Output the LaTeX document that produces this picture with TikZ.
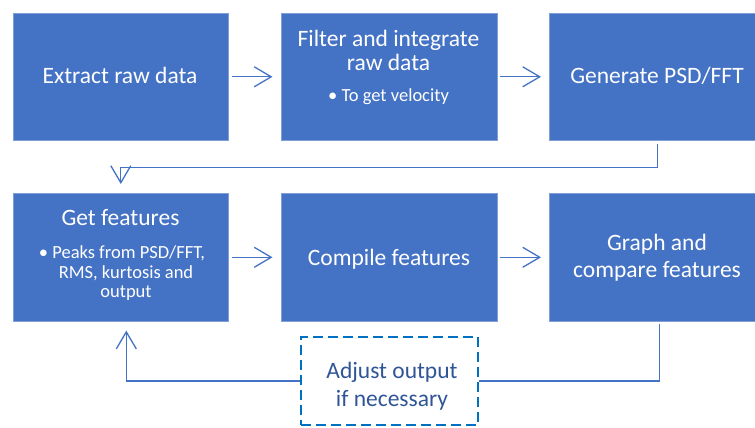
\documentclass[tikz,border=0pt]{standalone}
\usepackage{fontspec}
\setmainfont{Carlito}
\usetikzlibrary{arrows.meta}
\definecolor{boxblue}{HTML}{4472C4}
\definecolor{boxedge}{HTML}{7F9FD6}
\definecolor{dashblue}{HTML}{0070C0}
\definecolor{adjtext}{HTML}{2F5597}
\tikzset{
 stepbox/.style={rectangle, fill=boxblue, draw=boxedge, line width=0.6pt, inner sep=0pt, anchor=north west},
 bigtxt/.style={text=white, font=\fontsize{23.5}{28}\selectfont, anchor=base, inner sep=0pt},
 smalltxt/.style={text=white, font=\fontsize{18.5}{22}\selectfont, anchor=base, inner sep=0pt},
 conn/.style={draw=boxblue, line width=1.3pt, -{Straight Barb[length=17pt,width=20pt]}},
 plainconn/.style={draw=boxblue, line width=1.3pt},
 adjbox/.style={draw=dashblue, line width=2.8pt, dash pattern=on 10pt off 5pt, minimum width=177pt, minimum height=88pt, inner sep=0pt},
 adjtxt/.style={text=adjtext, font=\fontsize{23.5}{28}\selectfont, anchor=base, inner sep=0pt}
}
\begin{document}
\begin{tikzpicture}[x=1pt,y=-1pt]
\useasboundingbox (0,0) rectangle (755,428);
\node[stepbox, minimum width=215pt, minimum height=127pt] (b1) at (13,13) {};
\node[stepbox, minimum width=216pt, minimum height=127pt] (b2) at (281,13) {};
\node[stepbox, minimum width=216pt, minimum height=127pt] (b3) at (549,13) {};
\node[stepbox, minimum width=215pt, minimum height=128pt] (b4) at (13,193) {};
\node[stepbox, minimum width=216pt, minimum height=128pt] (b5) at (281,193) {};
\node[stepbox, minimum width=216pt, minimum height=128pt] (b6) at (549,193) {};
\node[adjbox] (adj) at (389.5,381) {};

\node[bigtxt] (t1) at (120,83) {Extract raw data};
\node[bigtxt] (t2a) at (388.5,47) {Filter and integrate};
\node[bigtxt] (t2b) at (388.5,70.5) {raw data};
\node[smalltxt] (t2c) at (388.5,101.5) {• To get velocity};
\node[bigtxt] (t3) at (657,83) {Generate PSD/FFT};
\node[bigtxt] (t4a) at (120.5,225) {Get features};
\node[smalltxt] (t4b) at (122,258) {• Peaks from PSD/FFT,};
\node[smalltxt] (t4c) at (126,278) {RMS, kurtosis and};
\node[smalltxt] (t4d) at (126,297.5) {output};
\node[bigtxt] (t5) at (389,265) {Compile features};
\node[bigtxt] (t6a) at (657,250.5) {Graph and};
\node[bigtxt] (t6b) at (657,277.5) {compare features};
\node[adjtxt] (t7a) at (392,378.3) {Adjust output};
\node[adjtxt] (t7b) at (392,406.7) {if necessary};

\draw[conn] ([xshift=3pt]b1.east) -- ([xshift=-8.5pt]b2.west);
\draw[conn] ([xshift=2pt]b2.east) -- ([xshift=-8pt]b3.west);
\draw[conn] ([yshift=-3pt]b3.south) -- ++(0,24) -| ([yshift=9pt]b4.north);
\draw[conn] ([xshift=3pt]b4.east) -- ([xshift=-8.5pt]b5.west);
\draw[conn] ([xshift=2pt]b5.east) -- ([xshift=-8pt]b6.west);
\draw[plainconn] ([xshift=2pt,yshift=-2pt]b6.south) |- (adj.east);
\draw[conn] (adj.west) -| ([xshift=5.5pt,yshift=-9pt]b4.south);
\end{tikzpicture}
\end{document}
